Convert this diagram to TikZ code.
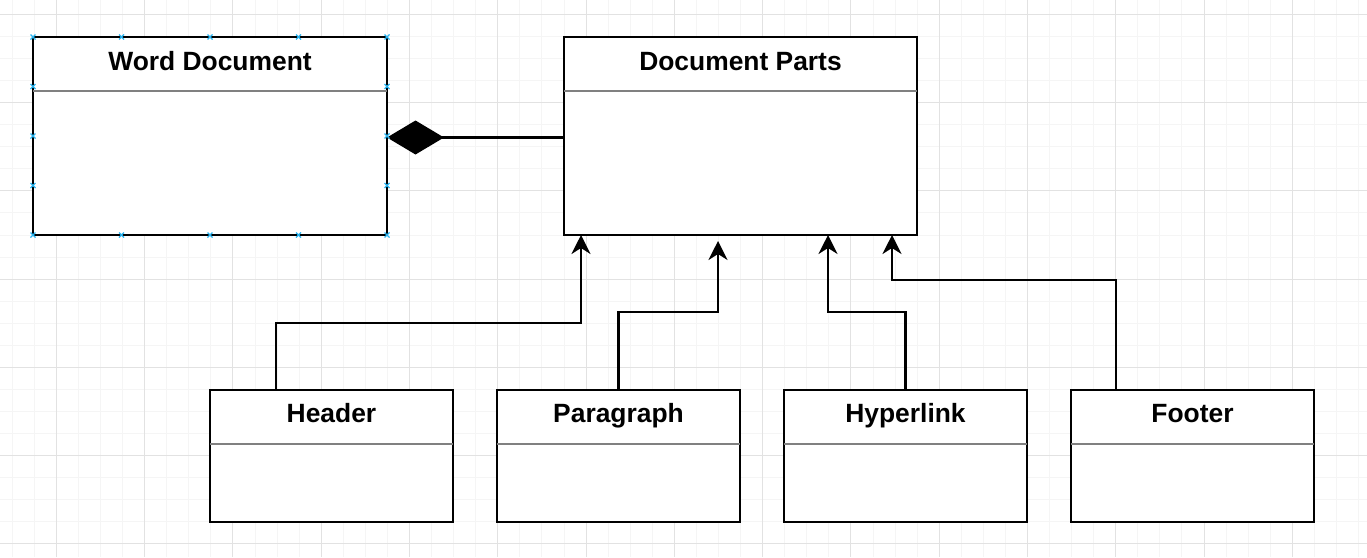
\documentclass[tikz,border=0pt]{standalone}
\usepackage{fontspec}
\setmainfont{Liberation Sans}
\usetikzlibrary{arrows.meta}
\definecolor{gridminor}{RGB}{245,245,245}
\definecolor{gridmajor}{RGB}{226,226,226}
\definecolor{handle}{RGB}{41,182,242}
\begin{document}
\begin{tikzpicture}[x=1pt,y=-1pt,
  classbox/.style={draw,line width=2.2pt,fill=white,inner sep=0pt,outer sep=0pt},
  classname/.style={anchor=base,font=\fontsize{26.4}{30}\selectfont\bfseries},
  sep/.style={draw=black!50,line width=2pt},
  link/.style={line width=2.2pt,-{Stealth[length=19pt,width=19pt,inset=6pt]}},
  mark handle/.style={handle,line width=1.3pt}]
\fill[white] (0,0) rectangle (1367,557);
\useasboundingbox (0,0) rectangle (1367,557);
\foreach \i in {0,...,61} \draw[gridminor,line width=1pt] (12.26+\i*22.07,0) -- (12.26+\i*22.07,557);
\foreach \j in {0,...,24} \draw[gridminor,line width=1pt] (0,14.3+\j*22.07) -- (1367,14.3+\j*22.07);
\foreach \i in {0,...,14} \draw[gridmajor,line width=1pt] (56.4+\i*88.28,0) -- (56.4+\i*88.28,557);
\foreach \j in {0,...,6} \draw[gridmajor,line width=1pt] (0,14.3+\j*88.28) -- (1367,14.3+\j*88.28);

\node[classbox,minimum width=354pt,minimum height=198pt] (word) at (210,136) {};
\node[classname] (word-name) at ([yshift=-33pt]word.north) {Word Document};
\draw[sep] ([yshift=-54pt]word.north west) -- ([yshift=-54pt]word.north east);
\node[classbox,minimum width=353pt,minimum height=198pt] (parts) at (740.5,136) {};
\node[classname] (parts-name) at ([yshift=-33pt]parts.north) {Document Parts};
\draw[sep] ([yshift=-54pt]parts.north west) -- ([yshift=-54pt]parts.north east);

\foreach \n/\x/\t in {header/331.5/Header, paragraph/618.5/Paragraph, hyperlink/905.5/Hyperlink, footer/1192.5/Footer} {
  \node[classbox,minimum width=243pt,minimum height=132pt] (\n) at (\x,456) {};
  \node[classname] (\n-name) at ([yshift=-32pt]\n.north) {\t};
  \draw[sep] ([yshift=-54pt]\n.north west) -- ([yshift=-54pt]\n.north east);
}

\draw[line width=2.2pt,{Diamond[length=57pt,width=34pt]}-] ([yshift=-1.5pt]word.east) -- ([yshift=-1.5pt]parts.west);
\draw[link] ([xshift=-55.5pt]header.north) -- ++(0,-67) -| ([xshift=17pt]parts.south west);
\draw[link] (paragraph.north) -- ++(0,-78) -| ([xshift=154pt,yshift=-6pt]parts.south west);
\draw[link] (hyperlink.north) -- ++(0,-78) -| ([xshift=264pt]parts.south west);
\draw[link] ([xshift=-76.5pt]footer.north) -- ++(0,-110) -| ([xshift=328pt]parts.south west);

\foreach \d in {0,88.5,177,265.5,354} {
  \draw[mark handle] ([xshift=\d pt]word.north west) +(-2.5,-2.5) -- +(2.5,2.5) +(-2.5,2.5) -- +(2.5,-2.5);
  \draw[mark handle] ([xshift=\d pt]word.south west) +(-2.5,-2.5) -- +(2.5,2.5) +(-2.5,2.5) -- +(2.5,-2.5);
}
\foreach \d in {49.5,99,148.5} {
  \draw[mark handle] ([yshift=-\d pt]word.north west) +(-2.5,-2.5) -- +(2.5,2.5) +(-2.5,2.5) -- +(2.5,-2.5);
  \draw[mark handle] ([yshift=-\d pt]word.north east) +(-2.5,-2.5) -- +(2.5,2.5) +(-2.5,2.5) -- +(2.5,-2.5);
}
\end{tikzpicture}
\end{document}
